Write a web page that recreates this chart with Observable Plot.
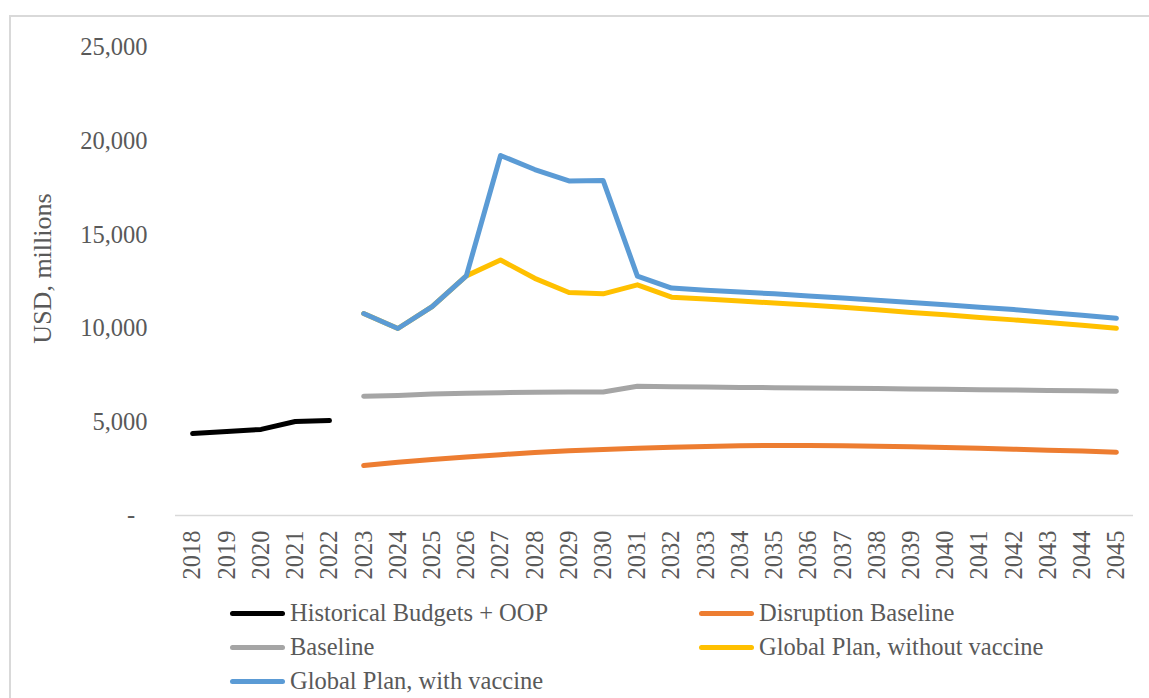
<!DOCTYPE html>
<html><head><meta charset="utf-8">
<script src="https://cdn.jsdelivr.net/npm/d3@7"></script>
<script src="https://cdn.jsdelivr.net/npm/@observablehq/plot@0.6"></script>
<style>
body{margin:0;background:#fff;font-family:"Liberation Serif",serif;overflow:hidden;}
#frame{position:absolute;left:9px;top:15px;width:1200px;height:720px;border-left:2px solid #d9d9d9;border-top:2px solid #d9d9d9;}
#chart{position:absolute;left:0;top:0;}
#legend{position:absolute;left:230px;top:596px;display:grid;grid-template-columns:469px auto;grid-auto-rows:34px;}
.item{display:flex;align-items:center;font-size:24.5px;color:#595959;white-space:nowrap;}
.sw{width:55px;height:5px;border-radius:3px;margin-right:5px;}
</style>
</head><body>
<div id="frame"></div>
<div id="chart"></div>
<div id="legend"></div>
<script>
const years = d3.range(2018, 2046);
const histYears = [2018, 2019, 2020, 2021, 2022];
const projYears = [2023,2024,2025,2026,2027,2028,2029,2030,2031,2032,2033,2034,2035,2036,2037,2038,2039,2040,2041,2042,2043,2044,2045];

const seriesNames = ["Historical Budgets + OOP","Disruption Baseline","Baseline","Global Plan, without vaccine","Global Plan, with vaccine"];
const seriesColors = ["#000000","#ED7D31","#A5A5A5","#FFC000","#5B9BD5"];

const historical = [4380, 4490, 4600, 5020, 5070];
const disruption = [2670,2840,2990,3130,3250,3360,3460,3530,3590,3640,3690,3720,3740,3740,3720,3700,3670,3630,3590,3540,3490,3440,3380];
const baseline = [6370,6410,6490,6530,6560,6580,6600,6600,6900,6880,6860,6840,6830,6810,6800,6780,6760,6740,6720,6700,6680,6660,6640];
const withoutVaccine = [10790,9990,11160,12800,13650,12670,11910,11840,12320,11660,11560,11460,11350,11240,11120,10990,10850,10720,10580,10450,10310,10160,10000];
const withVaccine = [10790,9990,11160,12800,19230,18480,17870,17890,12790,12150,12030,11940,11840,11730,11620,11500,11380,11260,11130,11000,10850,10700,10540];

const yTicks = [0, 5000, 10000, 15000, 20000, 25000];

const seriesValues = [historical, disruption, baseline, withoutVaccine, withVaccine];
const seriesYears = [histYears, projYears, projYears, projYears, projYears];
const rows = [];
seriesNames.forEach((name, i) => {
  seriesValues[i].forEach((v, j) => rows.push({series: name, year: seriesYears[i][j], value: v}));
});

const fmt = d3.format(",");
const plot = Plot.plot({
  width: 1149,
  height: 590,
  marginLeft: 175,
  marginRight: 16,
  marginTop: 47,
  marginBottom: 75,
  style: {fontFamily: "'Liberation Serif', serif", fontSize: "24.5px", color: "#595959", background: "transparent"},
  x: {domain: [2017.5, 2045.5]},
  y: {domain: [0, 25000]},
  color: {domain: seriesNames, range: seriesColors},
  marks: [
    Plot.ruleY([0], {stroke: "#d9d9d9", strokeWidth: 1.5}),
    Plot.axisY(yTicks, {tickSize: 0, tickPadding: 28, tickFormat: d => d === 0 ? "-\u00a0\u00a0" : fmt(d), label: null, fill: "#595959"}),
    Plot.axisX(years, {tickSize: 0, tickPadding: 15, tickRotate: -90, tickFormat: d => String(d), label: null, fill: "#595959"}),
    Plot.text(["USD, millions"], {frameAnchor: "left", textAnchor: "middle", dx: -133, dy: -13, rotate: -90, fontSize: 26, fill: "#595959"}),
    Plot.line(rows, {x: "year", y: "value", z: "series", stroke: "series", strokeWidth: 5, strokeLinecap: "round", strokeLinejoin: "round"})
  ]
});
document.getElementById("chart").appendChild(plot);

const legend = document.getElementById("legend");
seriesNames.forEach((name, i) => {
  const it = document.createElement("div");
  it.className = "item";
  it.innerHTML = `<span class="sw" style="background:${seriesColors[i]}"></span><span>${name}</span>`;
  legend.appendChild(it);
});
</script>
</body></html>
